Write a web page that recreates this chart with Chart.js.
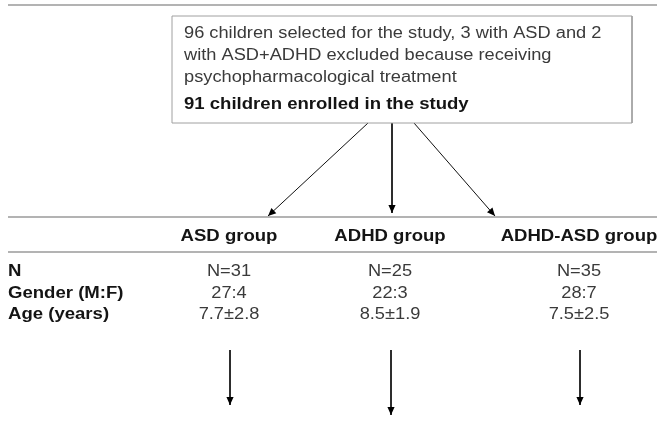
<!DOCTYPE html>
<html><head><meta charset="utf-8">
<script src="https://cdn.jsdelivr.net/npm/chart.js@4.4.1/dist/chart.umd.min.js"></script>
<style>html,body{margin:0;padding:0;background:#fff;overflow:hidden}#wrap{width:657px;height:424px}</style>
</head><body><div id="wrap"><canvas id="c" width="657" height="424"></canvas></div>
<script>
// ---------- data ----------
const groups = ['ASD group', 'ADHD group', 'ADHD-ASD group'];
const rowLabels = ['N', 'Gender (M:F)', 'Age (years)'];
const nChildren = [31, 25, 35];
const males = [27, 22, 28];
const females = [4, 3, 7];
const ageMean = [7.7, 8.5, 7.5];
const ageSD = [2.8, 1.9, 2.5];
const selectedNote = [
  '96 children selected for the study, 3 with ASD and 2',
  'with ASD+ADHD excluded because receiving',
  'psychopharmacological treatment'
];
const enrolledNote = '91 children enrolled in the study';

// ---------- layout (figure pixel space 657 x 424) ----------
const W = 657, H = 424;
const colX = [229, 390, 579];
const labelX = 8;
const ruleY = [5, 217, 252];
const box = {x0: 172, x1: 632, y0: 16, y1: 123};
const textX = 184;
const noteY = [32, 54, 76];
const enrolledY = 103;
const headerY = 235;
const rowY = [270, 292, 313];
const splitFromX = [368, 392, 414];
const splitToX = [268, 392, 495];
const splitToY = [216, 213, 216];
const downTop = 350;
const downTip = [405, 415, 405];

// ---------- styles ----------
const FONT = '"Liberation Sans", Arial, Helvetica, sans-serif';
const FS = 16, SX = 1.14, SXB = 1.16;
const RULE = '#9a9a9a';

const datasets = [];
ruleY.forEach(y => datasets.push({data: [{x: labelX, y}, {x: W, y}], borderColor: RULE, borderWidth: 1.5}));
datasets.push({data: [{x: box.x0, y: box.y0}, {x: box.x1, y: box.y0}, {x: box.x1, y: box.y1}, {x: box.x0, y: box.y1}, {x: box.x0, y: box.y0}],
  borderColor: '#a0a0a0', borderWidth: 1});
groups.forEach((g, i) => {
  datasets.push({data: [{x: splitFromX[i], y: box.y1}, {x: splitToX[i], y: splitToY[i]}], borderColor: '#111', borderWidth: 1, arrow: true});
  datasets.push({data: [{x: colX[i] + 1, y: downTop}, {x: colX[i] + 1, y: downTip[i]}], borderColor: '#111', borderWidth: 1, arrow: true});
});
datasets.forEach(d => { d.showLine = true; d.pointRadius = 0; d.fill = false; d.tension = 0; });

function txt(ctx, s, x, y, bold, align) {
  ctx.save();
  ctx.font = (bold ? 'bold ' : '') + FS + 'px ' + FONT;
  ctx.fillStyle = bold ? '#141414' : '#3a3a3a';
  ctx.textAlign = align;
  ctx.textBaseline = 'alphabetic';
  ctx.translate(x, y + FS * 0.716 / 2);
  ctx.scale(bold ? SXB : SX, 1);
  ctx.fillText(s, 0, 0);
  ctx.restore();
}

const figurePlugin = {
  id: 'figure',
  beforeDraw(chart) {
    const c = chart.ctx; c.save(); c.fillStyle = '#fff'; c.fillRect(0, 0, chart.width, chart.height); c.restore();
  },
  afterDatasetsDraw(chart) {
    const ctx = chart.ctx, xs = chart.scales.x, ys = chart.scales.y;
    chart.data.datasets.forEach((d, i) => {
      if (!d.arrow) return;
      const m = chart.getDatasetMeta(i);
      const p0 = m.data[0], p1 = m.data[1];
      const a = Math.atan2(p1.y - p0.y, p1.x - p0.x);
      const L = 8, hw = 3.6;
      ctx.save();
      ctx.fillStyle = '#000';
      ctx.beginPath();
      ctx.moveTo(p1.x, p1.y);
      ctx.lineTo(p1.x - L * Math.cos(a) + hw * Math.sin(a), p1.y - L * Math.sin(a) - hw * Math.cos(a));
      ctx.lineTo(p1.x - L * Math.cos(a) - hw * Math.sin(a), p1.y - L * Math.sin(a) + hw * Math.cos(a));
      ctx.closePath();
      ctx.fill();
      ctx.restore();
    });
    selectedNote.forEach((s, i) => txt(ctx, s, xs.getPixelForValue(textX), ys.getPixelForValue(noteY[i]), false, 'left'));
    txt(ctx, enrolledNote, xs.getPixelForValue(textX), ys.getPixelForValue(enrolledY), true, 'left');
    groups.forEach((g, i) => txt(ctx, g, xs.getPixelForValue(colX[i]), ys.getPixelForValue(headerY), true, 'center'));
    rowLabels.forEach((r, j) => txt(ctx, r, xs.getPixelForValue(labelX), ys.getPixelForValue(rowY[j]), true, 'left'));
    groups.forEach((g, i) => {
      const x = xs.getPixelForValue(colX[i]);
      txt(ctx, 'N=' + nChildren[i], x, ys.getPixelForValue(rowY[0]), false, 'center');
      txt(ctx, males[i] + ':' + females[i], x, ys.getPixelForValue(rowY[1]), false, 'center');
      txt(ctx, ageMean[i].toFixed(1) + '\u00b1' + ageSD[i].toFixed(1), x, ys.getPixelForValue(rowY[2]), false, 'center');
    });
  }
};

new Chart(document.getElementById('c'), {
  type: 'scatter',
  data: {datasets},
  options: {
    responsive: false, animation: false, devicePixelRatio: 1,
    layout: {padding: 0},
    plugins: {legend: {display: false}, tooltip: {enabled: false}},
    events: [],
    scales: {
      x: {type: 'linear', min: 0, max: W, display: false},
      y: {type: 'linear', min: 0, max: H, reverse: true, display: false}
    },
    elements: {line: {borderCapStyle: 'butt'}}
  },
  plugins: [figurePlugin]
});
</script></body></html>
